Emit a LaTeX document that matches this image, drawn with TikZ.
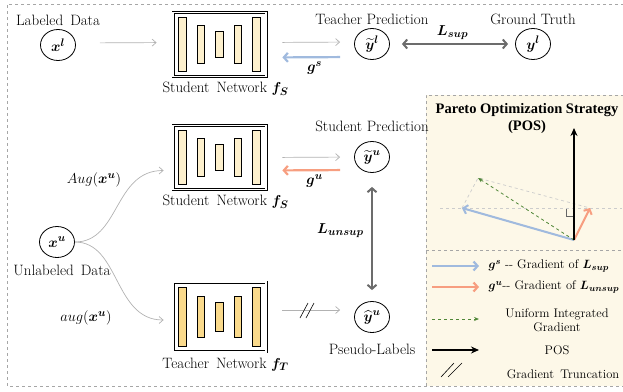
\documentclass[tikz,border=0pt]{standalone}
\usepackage{amsmath}
\usepackage{amssymb}
\usepackage{bm}
\usepackage{fontspec}
\newfontfamily\titlefont{Liberation Serif}
\usetikzlibrary{arrows.meta,shapes.geometric,positioning}

\definecolor{gsblue}{RGB}{160,186,222}
\definecolor{guorange}{RGB}{247,158,128}
\definecolor{posfill}{RGB}{253,248,232}
\definecolor{stubar}{RGB}{253,240,205}
\definecolor{teabar}{RGB}{250,218,140}
\definecolor{uigreen}{RGB}{80,135,55}

\tikzset{
  var/.style={ellipse,draw,line width=0.8pt,minimum width=35pt,minimum height=31pt,inner sep=0pt},
  netframe/.style={draw,line width=0.8pt,double,double distance=1.4pt,minimum width=93pt,minimum height=#1,inner sep=0pt},
  bar/.style={draw,line width=0.8pt,minimum width=7.5pt,inner sep=0pt},
  feed/.style={draw=gray!60,line width=0.7pt,-{Straight Barb[length=4pt,width=7pt]}},
  grad/.style={line width=2.2pt,-{Straight Barb[length=4pt,width=9pt]}},
  loss/.style={draw=gray!85!black,line width=2pt,{Straight Barb[length=4pt,width=9pt]}-{Straight Barb[length=4pt,width=9pt]}},
  trunc/.style={line width=0.6pt},
  legtext/.style={font=\fontsize{12.5}{14}\selectfont},
}

% box with five layers
\newcommand{\netbox}[5]{%
  \node[netframe=#5*64pt] (#1) at (#2,#3) {};
  \foreach \dx/\h in {-37/54,-18.5/38,0/26,18.5/38,37/54}
    \node[bar,fill=#4,minimum height=#5*\h pt] at ([xshift=\dx pt]#1.center) {};
}

\begin{document}
\begin{tikzpicture}[x=1pt,y=-1pt,font=\fontsize{15}{17}\selectfont]
  \useasboundingbox (0,0) rectangle (623,391);

  % outer frame and POS panel
  \draw[gray!70,dashed,line width=0.7pt] (630,4) -- (7,4) -- (7,386) -- (630,386);
  \fill[posfill] (426,95) rectangle (630,386);
  \draw[gray!70,dashed,line width=0.7pt] (630,95) -- (426,95) -- (426,386);
  \draw[gray!70,dashed,line width=0.7pt] (426,250) -- (630,250);

  % nodes
  \node[var] (xl) at (58,45) [label=above:Labeled\, Data] {$\bm{x}^{\bm{l}}$};
  \node[var] (ytl) at (372,44) [label=above:Teacher Prediction] {$\widetilde{\bm{y}}^{\bm{l}}$};
  \node[var] (yl) at (533,44) [label=above:Ground Truth] {$\bm{y}^{\bm{l}}$};
  \node[var] (ytu) at (372,157) [label={[label distance=6pt]above:Student Prediction}] {$\widetilde{\bm{y}}^{\bm{u}}$};
  \node[var] (xu) at (57,242) [label={[label distance=4pt,xshift=5pt]below:Unlabeled\, Data}] {$\bm{x}^{\bm{u}}$};
  \node[var] (yhu) at (372,317) [label={[label distance=8pt]below:Pseudo-Labels}] {$\widehat{\bm{y}}^{\bm{u}}$};

  \netbox{sn1}{219.5}{44.5}{stubar}{1}
  \netbox{sn2}{219.5}{157.5}{stubar}{1}
  \netbox{tn}{219.5}{317}{teabar}{1.09}
  \node[below=2pt of sn1.south,xshift=6pt] (sn1lab) {Student\, Network $\bm{f_S}$};
  \node[below=2pt of sn2.south,xshift=6pt] (sn2lab) {Student\, Network $\bm{f_S}$};
  \node[below=2pt of tn.south,xshift=6pt] (tnlab) {Teacher\, Network $\bm{f_T}$};

  % labeled branch
  \draw[feed,shorten <=24pt,shorten >=16pt] ([yshift=2pt]xl.east) -- ([yshift=2pt]sn1.west);
  \draw[feed,shorten <=16pt,shorten >=14pt] ([yshift=2pt]sn1.east) -- ([yshift=2pt]ytl.west);
  \draw[grad,gsblue,shorten <=14pt,shorten >=16pt] ([yshift=-13pt]ytl.west) -- ([yshift=-13pt]sn1.east)
    node[pos=0.45,below=0pt,black] {$\bm{g^s}$};
  \draw[loss,shorten <=12pt,shorten >=7pt] (ytl.east) -- (yl.west)
    node[midway,above=0pt] {$\bm{L_{sup}}$};

  % unlabeled branch
  \draw[feed] (xu.east) .. controls +(45,0) and +(-50,0) .. ([xshift=-9pt,yshift=-13pt]sn2.west);
  \draw[feed] (xu.east) .. controls +(45,0) and +(-50,0) .. ([xshift=-9pt,yshift=-3pt]tn.west);
  \node (aug1) at (94,180) {$Aug(\bm{x}^{\bm{u}})$};
  \node (aug2) at (86,318) {$aug(\bm{x}^{\bm{u}})$};
  \draw[feed,shorten <=16pt,shorten >=14pt] (sn2.east) -- (ytu.west);
  \draw[grad,guorange,shorten <=14pt,shorten >=16pt] ([yshift=-13pt]ytu.west) -- ([yshift=-13pt]sn2.east)
    node[pos=0.45,below=0pt,black] {$\bm{g^u}$};
  \draw[feed,shorten <=16pt,shorten >=14pt] ([yshift=7pt]tn.east) -- ([yshift=7pt]yhu.west);
  \draw[trunc] (300,318) -- (308,303) (306,318) -- (314,303);
  \draw[loss,shorten <=14pt,shorten >=11pt] (ytu.south) -- (yhu.north)
    node[pos=0.45,left=4pt] {$\bm{L_{unsup}}$};

  % POS panel
  \node[font=\titlefont\bfseries\fontsize{14.5}{17}\selectfont,align=center] (postitle) at (527,119)
    {Pareto Optimization Strategy\\(POS)};
  \coordinate (O) at (574,240);
  \coordinate (gs) at (462,208);
  \coordinate (gu) at (590,208);
  \coordinate (ug) at (478,178);
  \coordinate (pos) at (574,128);
  \draw[gray!40,dashed,line width=0.7pt] (440,208) -- (622,208);
  \draw[gray!40,dashed,line width=0.7pt] (gs) -- (ug) -- (gu);
  \draw[gray!80!black,line width=0.9pt] (566,209) -- (566,216) -- (574,216);
  \draw[grad,gsblue,line width=2pt] (O) -- (gs);
  \draw[grad,guorange,line width=2pt] (O) -- (gu);
  \draw[uigreen,dashed,line width=0.8pt,-{Stealth[length=5pt,width=4pt]}] (O) -- (ug);
  \draw[line width=2pt,-{Stealth[length=8pt,width=7pt]}] (O) -- (pos);

  % legend
  \coordinate (l1a) at (432,266); \coordinate (l1b) at (479,266);
  \coordinate (l2a) at (432,287); \coordinate (l2b) at (479,287);
  \coordinate (l3a) at (432,319); \coordinate (l3b) at (479,319);
  \coordinate (l4a) at (432,350); \coordinate (l4b) at (479,350);
  \draw[grad,gsblue] (l1a) -- (l1b);
  \draw[grad,guorange] (l2a) -- (l2b);
  \draw[uigreen,dashed,line width=0.8pt,-{Stealth[length=5pt,width=4pt]}] (l3a) -- (l3b);
  \draw[line width=1.6pt,-{Stealth[length=8pt,width=7pt]}] (l4a) -- (l4b);
  \draw[trunc] (441,377) -- (454,363) (448,377) -- (462,363);
  \node[legtext,anchor=west] (t1) at (485,266) {$\bm{g^s}$ -{}- Gradient of $\bm{L_{sup}}$};
  \node[legtext,anchor=west] (t2) at (485,287) {$\bm{g^u}$-{}- Gradient of $\bm{L_{unsup}}$};
  \node[legtext,align=center] (t3) at (557,320) {Uniform Integrated\\Gradient};
  \node[legtext] (t4) at (557,350) {POS};
  \node[legtext] (t5) at (563,374) {Gradient\, Truncation};
\end{tikzpicture}
\end{document}
